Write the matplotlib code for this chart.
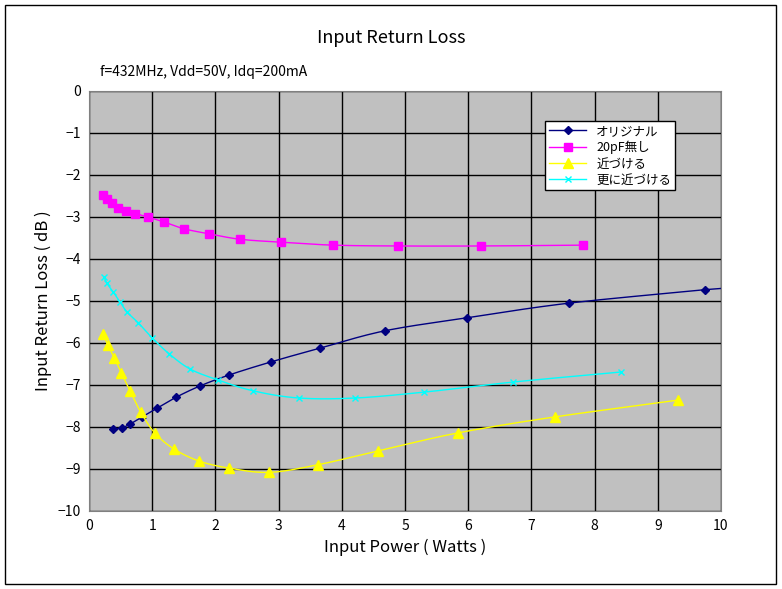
import numpy as np
import matplotlib
matplotlib.use("Agg")
import matplotlib.pyplot as plt
from matplotlib.patches import Rectangle

plt.rcParams['font.family'] = ['Noto Sans CJK JP', 'DejaVu Sans']

orig_x = [0.38, 0.52, 0.65, 0.84, 1.08, 1.38, 1.76, 2.22, 2.88, 3.66, 4.68, 5.98, 7.6, 9.75]
orig_y = [-8.05, -8.02, -7.93, -7.76, -7.55, -7.29, -7.02, -6.76, -6.45, -6.12, -5.71, -5.40, -5.05, -4.73]
p20_x = [0.22, 0.28, 0.36, 0.46, 0.58, 0.73, 0.93, 1.19, 1.50, 1.90, 2.39, 3.04, 3.86, 4.89, 6.2, 7.82]
p20_y = [-2.48, -2.57, -2.66, -2.78, -2.86, -2.92, -3.0, -3.12, -3.28, -3.40, -3.53, -3.6, -3.67, -3.69, -3.69, -3.67]
near_x = [0.22, 0.3, 0.4, 0.51, 0.65, 0.82, 1.04, 1.34, 1.74, 2.22, 2.85, 3.62, 4.57, 5.84, 7.37, 9.32]
near_y = [-5.79, -6.05, -6.35, -6.71, -7.14, -7.65, -8.14, -8.52, -8.81, -8.98, -9.08, -8.9, -8.57, -8.14, -7.76, -7.36]
more_x = [0.24, 0.28, 0.38, 0.49, 0.6, 0.78, 1.0, 1.27, 1.6, 2.04, 2.6, 3.32, 4.21, 5.3, 6.71, 8.42]
more_y = [-4.43, -4.57, -4.78, -5.02, -5.26, -5.52, -5.88, -6.26, -6.62, -6.88, -7.14, -7.31, -7.31, -7.17, -6.93, -6.69]
names = ['オリジナル', '20pF無し', '近づける', '更に近づける']

def smooth(x, y, n=12):
    x = np.asarray(x, float); y = np.asarray(y, float)
    P = np.column_stack([x, y])
    P = np.vstack([2*P[0]-P[1], P, 2*P[-1]-P[-2]])
    out = []
    t = np.linspace(0, 1, n, endpoint=False)[:, None]
    for i in range(1, len(P)-2):
        p0, p1, p2, p3 = P[i-1], P[i], P[i+1], P[i+2]
        seg = 0.5*((2*p1) + (-p0+p2)*t + (2*p0-5*p1+4*p2-p3)*t**2 + (-p0+3*p1-3*p2+p3)*t**3)
        out.append(seg)
    out.append(P[-2][None, :])
    S = np.vstack(out)
    return S[:, 0], S[:, 1]

fig = plt.figure(figsize=(7.82, 5.89), dpi=100)
fig.patches.append(Rectangle((5/782, 5/589), 771/782, 579/589, transform=fig.transFigure,
                             fill=False, edgecolor='black', linewidth=1))
ax = fig.add_axes([89/782, 1-511/589, 632/782, 420/589])
ax.set_facecolor('#c0c0c0')
ax.set_xlim(0, 10); ax.set_ylim(-10, 0)
ax.set_xticks(range(0, 11)); ax.set_yticks(range(-10, 1))
ax.grid(True, color='black', linewidth=1)
ax.set_axisbelow(True)
for s in ax.spines.values():
    s.set_color('#808080')
ax.tick_params(length=0, labelsize=10, pad=6)

series = [
    (orig_x, orig_y, '#000080', 'D', 4, 'none'),
    (p20_x, p20_y, '#ff00ff', 's', 6, 'none'),
    (near_x, near_y, '#ffff00', '^', 7, 'none'),
    (more_x, more_y, '#00ffff', 'x', 5, 'none'),
]
handles = []
for (x, y, c, m, ms, _), nm in zip(series, names):
    sx, sy = smooth(x, y)
    if nm == 'オリジナル':
        sx = np.append(sx, 10.1); sy = np.append(sy, -4.69)
    ax.plot(sx, sy, color=c, linewidth=1, clip_on=True)
    ax.plot(x, y, linestyle='none', marker=m, color=c, markersize=ms, markeredgewidth=1)
    h, = ax.plot([], [], color=c, marker=m, markersize=ms, linewidth=1)
    handles.append(h)

leg = ax.legend(handles, names, loc='upper left', bbox_to_anchor=((545-89)/632, (511-121)/420),
                fontsize=9, frameon=True, fancybox=False, edgecolor='black', framealpha=1,
                borderpad=0.3, labelspacing=0.25, handlelength=3, borderaxespad=0)
leg.get_frame().set_facecolor('white')

fig.text(391/782, 1-38/589, 'Input Return Loss', ha='center', va='center', fontsize=13)
fig.text(100/782, 1-72/589, 'f=432MHz, Vdd=50V, Idq=200mA', ha='left', va='center', fontsize=10)
ax.set_xlabel('Input Power ( Watts )', fontsize=12, labelpad=4)
ax.set_ylabel('Input Return Loss ( dB )', fontsize=12, labelpad=4)
fig.savefig('out.png', dpi=100)
